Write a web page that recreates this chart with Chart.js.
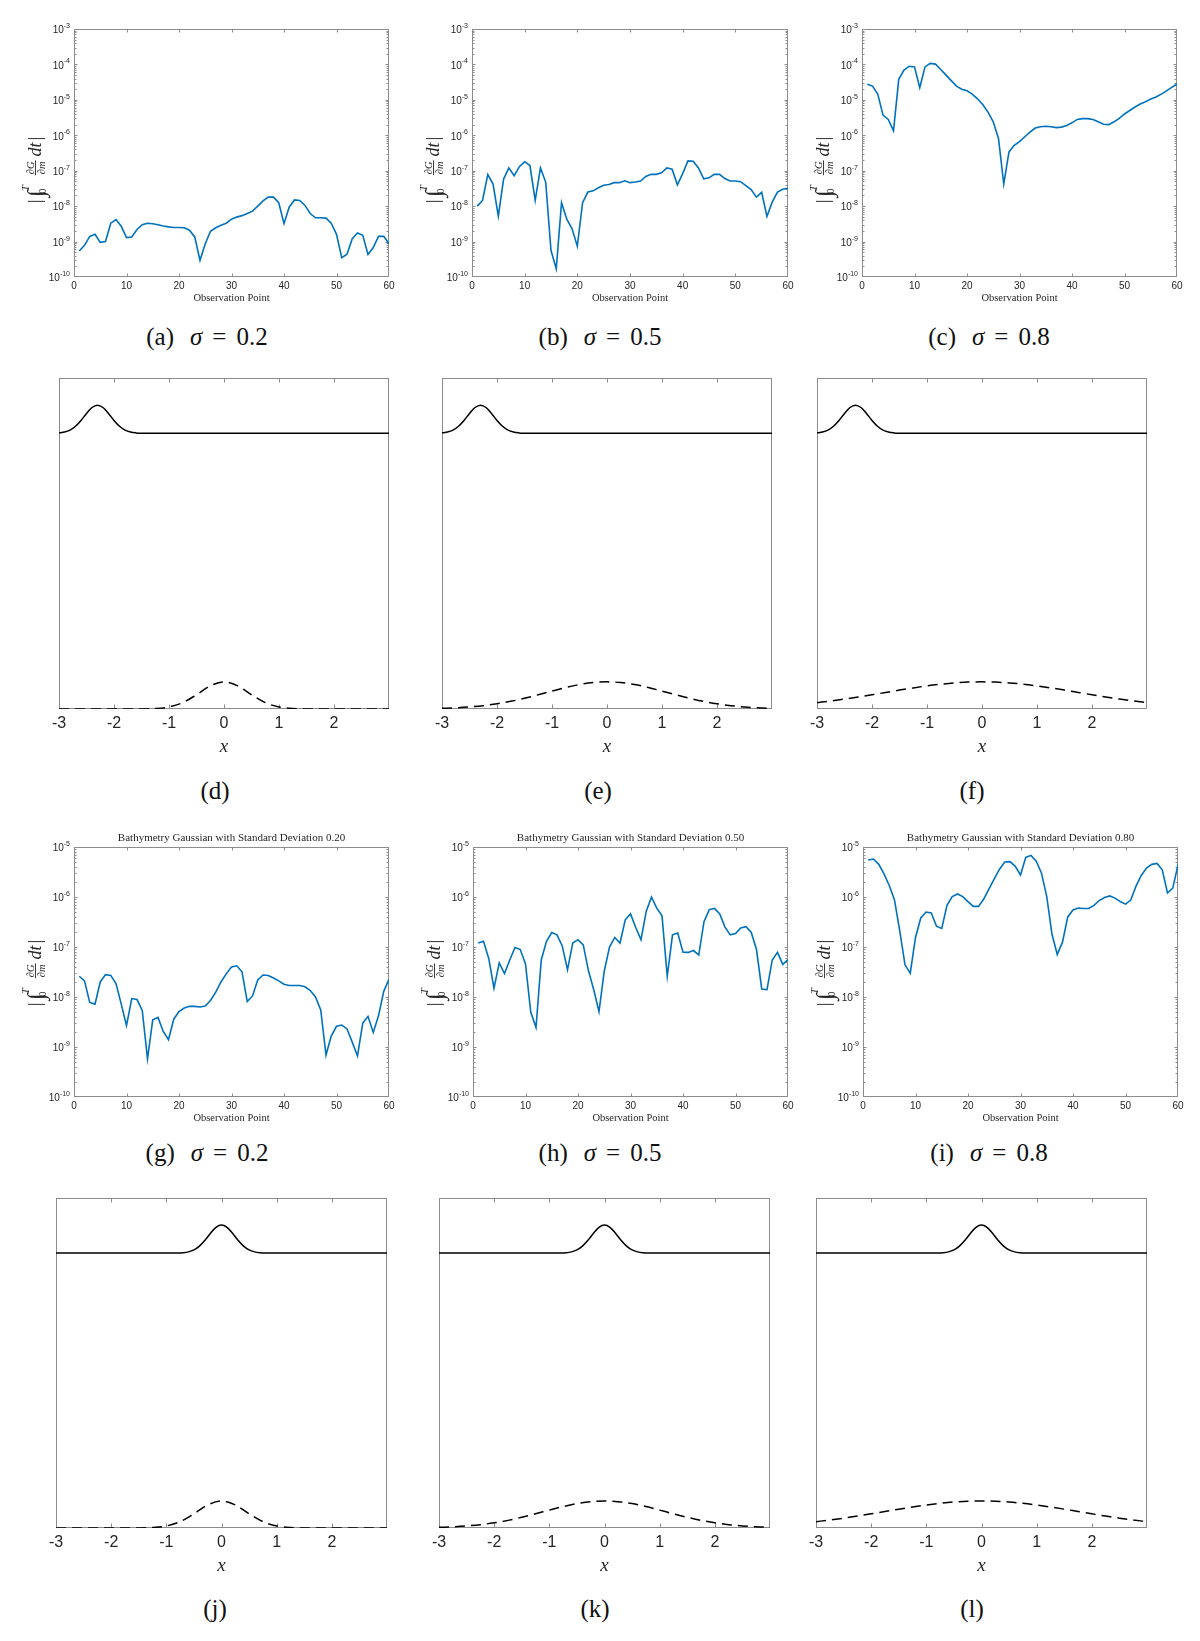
<!DOCTYPE html>
<html>
<head>
<meta charset="utf-8">
<script src="https://cdn.jsdelivr.net/npm/chart.js@4.4.1/dist/chart.umd.min.js"></script>
<style>
  html, body { margin: 0; padding: 0; background: #fff; }
  #fig { position: relative; width: 1200px; height: 1641px; overflow: hidden; background: #fff; }
  .panel { position: absolute; }
  .cap { position: absolute; transform: translate(-50%, -50%); font-family: 'Liberation Serif', 'Times New Roman', serif;
         font-size: 25px; color: #111; white-space: nowrap; line-height: 1; }
  .cap .gap { display: inline-block; width: 16px; }
  .cap .eq { margin: 0 10px; }
</style>
</head>
<body>
<div id="fig"></div>
<script>
// observation points on the horizontal axis of the sensitivity plots
const obsPoints = [1, 2, 3, 4, 5, 6, 7, 8, 9, 10, 11, 12, 13, 14, 15, 16, 17, 18, 19, 20,
  21, 22, 23, 24, 25, 26, 27, 28, 29, 30, 31, 32, 33, 34, 35, 36, 37, 38, 39, 40,
  41, 42, 43, 44, 45, 46, 47, 48, 49, 50, 51, 52, 53, 54, 55, 56, 57, 58, 59, 60];
const obsTicks = [0, 10, 20, 30, 40, 50, 60];
const decadesTop = [-10, -9, -8, -7, -6, -5, -4, -3];
const decadesBottom = [-10, -9, -8, -7, -6, -5];

// |int_0^T dG/dm dt| , wave start at x = -2.3
const sensA = [5.4e-10, 7.8e-10, 1.4e-9, 1.6e-9, 9.5e-10, 1.0e-9, 3.3e-9, 4.2e-9, 2.7e-9, 1.3e-9,
  1.35e-9, 2.2e-9, 3.0e-9, 3.3e-9, 3.2e-9, 3.0e-9, 2.75e-9, 2.6e-9, 2.5e-9, 2.5e-9,
  2.45e-9, 2.1e-9, 1.35e-9, 2.95e-10, 8.7e-10, 1.95e-9, 2.45e-9, 2.9e-9, 3.3e-9, 4.3e-9,
  4.9e-9, 5.4e-9, 6.2e-9, 7.2e-9, 1.0e-8, 1.4e-8, 1.8e-8, 1.8e-8, 1.25e-8, 3.2e-9,
  9.5e-9, 1.5e-8, 1.45e-8, 1.05e-8, 6.2e-9, 4.7e-9, 4.7e-9, 4.6e-9, 3.3e-9, 1.6e-9,
  3.5e-10, 4.4e-10, 1.2e-9, 1.75e-9, 1.5e-9, 4.3e-10, 6.8e-10, 1.4e-9, 1.4e-9, 8.7e-10];
const sensB = [1.0e-8, 1.45e-8, 7.8e-8, 4.2e-8, 5.2e-9, 5.8e-8, 1.2e-7, 7.2e-8, 1.3e-7, 1.8e-7,
  1.4e-7, 1.45e-8, 1.2e-7, 4.7e-8, 5.6e-10, 1.7e-10, 1.25e-8, 4.3e-9, 2.3e-9, 7.4e-10,
  1.25e-8, 2.5e-8, 2.7e-8, 3.3e-8, 3.9e-8, 4.1e-8, 4.6e-8, 4.6e-8, 5.2e-8, 4.6e-8,
  4.8e-8, 5.1e-8, 6.9e-8, 7.9e-8, 7.9e-8, 8.7e-8, 1.2e-7, 1.1e-7, 4.0e-8, 8.3e-8,
  1.9e-7, 1.85e-7, 1.2e-7, 5.9e-8, 6.3e-8, 7.9e-8, 7.9e-8, 6.0e-8, 5.1e-8, 5.1e-8,
  4.9e-8, 3.8e-8, 2.95e-8, 1.8e-8, 2.45e-8, 5.1e-9, 1.3e-8, 2.5e-8, 3.0e-8, 3.2e-8];
const sensC = [2.75e-5, 2.45e-5, 1.45e-5, 3.7e-6, 2.8e-6, 1.35e-6, 3.8e-5, 6.9e-5, 8.9e-5, 8.5e-5,
  2.2e-5, 8.5e-5, 1.07e-4, 1.02e-4, 7.2e-5, 5.0e-5, 3.5e-5, 2.45e-5, 2.0e-5, 1.8e-5,
  1.45e-5, 1.07e-5, 7.4e-6, 4.5e-6, 2.4e-6, 8.1e-7, 4.2e-8, 3.4e-7, 5.2e-7, 6.6e-7,
  9.1e-7, 1.23e-6, 1.6e-6, 1.75e-6, 1.8e-6, 1.75e-6, 1.65e-6, 1.7e-6, 1.9e-6, 2.25e-6,
  2.8e-6, 2.95e-6, 2.95e-6, 2.8e-6, 2.4e-6, 2.05e-6, 2.0e-6, 2.4e-6, 3.0e-6, 4.0e-6,
  5.0e-6, 6.3e-6, 7.6e-6, 8.9e-6, 1.05e-5, 1.2e-5, 1.45e-5, 1.8e-5, 2.25e-5, 2.8e-5];

// same, wave start at x = 0
const sensG = [2.6e-8, 2.1e-8, 7.8e-9, 7.2e-9, 2.0e-8, 2.8e-8, 2.7e-8, 1.85e-8, 7.2e-9, 2.7e-9,
  9.3e-9, 8.9e-9, 5.4e-9, 5.8e-10, 3.5e-9, 3.9e-9, 2.05e-9, 1.4e-9, 3.6e-9, 5.1e-9,
  6.0e-9, 6.5e-9, 6.5e-9, 6.3e-9, 6.6e-9, 8.5e-9, 1.25e-8, 2.0e-8, 2.9e-8, 4.0e-8,
  4.2e-8, 3.2e-8, 8.1e-9, 1.05e-8, 2.2e-8, 2.75e-8, 2.7e-8, 2.4e-8, 2.1e-8, 1.8e-8,
  1.7e-8, 1.7e-8, 1.7e-8, 1.6e-8, 1.35e-8, 1.0e-8, 5.5e-9, 6.9e-10, 1.65e-9, 2.6e-9,
  2.75e-9, 2.3e-9, 1.25e-9, 6.6e-10, 3.0e-9, 4.1e-9, 1.95e-9, 4.2e-9, 1.3e-8, 2.25e-8];
const sensH = [1.2e-7, 1.3e-7, 5.9e-8, 1.5e-8, 4.8e-8, 2.95e-8, 5.5e-8, 9.8e-8, 8.9e-8, 4.6e-8,
  5.0e-9, 2.45e-9, 5.5e-8, 1.3e-7, 1.95e-7, 1.75e-7, 1.05e-7, 3.5e-8, 1.2e-7, 1.4e-7,
  1.1e-7, 3.3e-8, 1.4e-8, 5.1e-9, 3.3e-8, 1.0e-7, 1.55e-7, 1.2e-7, 3.5e-7, 4.6e-7,
  2.45e-7, 1.4e-7, 5.2e-7, 1.0e-6, 6.0e-7, 4.2e-7, 2.6e-8, 1.75e-7, 1.9e-7, 7.9e-8,
  7.8e-8, 8.5e-8, 6.9e-8, 3.2e-7, 5.6e-7, 5.9e-7, 4.6e-7, 2.5e-7, 1.75e-7, 1.85e-7,
  2.4e-7, 2.55e-7, 1.95e-7, 8.9e-8, 1.45e-8, 1.4e-8, 5.5e-8, 7.8e-8, 4.5e-8, 5.6e-8];
const sensI = [5.5e-6, 5.75e-6, 4.5e-6, 2.9e-6, 1.7e-6, 8.7e-7, 2.1e-7, 4.4e-8, 3.0e-8, 1.55e-7,
  3.8e-7, 5.0e-7, 4.8e-7, 2.6e-7, 2.35e-7, 6.8e-7, 1.02e-6, 1.15e-6, 1.02e-6, 8.1e-7,
  6.5e-7, 6.5e-7, 9.1e-7, 1.45e-6, 2.3e-6, 3.6e-6, 5.0e-6, 5.1e-6, 4.1e-6, 2.75e-6,
  6.2e-6, 6.8e-6, 5.2e-6, 3.0e-6, 1.02e-6, 1.8e-7, 7.1e-8, 1.25e-7, 4.0e-7, 5.5e-7,
  6.0e-7, 5.9e-7, 5.9e-7, 6.8e-7, 8.5e-7, 9.8e-7, 1.05e-6, 9.5e-7, 8.1e-7, 7.2e-7,
  8.7e-7, 1.65e-6, 2.7e-6, 3.8e-6, 4.5e-6, 4.7e-6, 3.5e-6, 1.2e-6, 1.5e-6, 4.4e-6];

const titles = ['Bathymetry Gaussian with Standard Deviation 0.20',
  'Bathymetry Gaussian with Standard Deviation 0.50',
  'Bathymetry Gaussian with Standard Deviation 0.80'];

// setup sketches: x in [-3, 3], heights in % of the box
const gaussTicks = [-3, -2, -1, 0, 1, 2];
const bathX = [-3, -2.75, -2.5, -2.25, -2, -1.75, -1.5, -1.25, -1, -0.75, -0.5, -0.25, 0,
  0.25, 0.5, 0.75, 1, 1.25, 1.5, 1.75, 2, 2.25, 2.5, 2.75, 3];
const bathNarrow = [0, 0, 0, 0, 0, 0, 0.02, 0.14, 0.62, 1.92, 4.30, 6.98, 8.2,
  6.98, 4.30, 1.92, 0.62, 0.14, 0.02, 0, 0, 0, 0, 0, 0];
const bathMid = [0.20, 0.36, 0.62, 1.01, 1.57, 2.31, 3.24, 4.30, 5.42, 6.50, 7.40, 7.99, 8.2,
  7.99, 7.40, 6.50, 5.42, 4.30, 3.24, 2.31, 1.57, 1.01, 0.62, 0.36, 0.20];
const bathWide = [1.92, 2.42, 2.99, 3.62, 4.30, 5.00, 5.71, 6.37, 6.98, 7.49, 7.88, 8.12, 8.2,
  8.12, 7.88, 7.49, 6.98, 6.37, 5.71, 5.00, 4.30, 3.62, 2.99, 2.42, 1.92];
const surfLeftX = [-3, -2.9, -2.8, -2.7, -2.6, -2.5, -2.4, -2.3, -2.2, -2.1, -2.0, -1.9, -1.8,
  -1.7, -1.6, -1.5, -1.4, 3];
const surfLeftY = [83.42, 83.67, 84.27, 85.42, 87.18, 89.3, 91.09, 91.8, 91.09, 89.3, 87.18,
  85.42, 84.27, 83.67, 83.42, 83.33, 83.3, 83.3];
const surfCenX = [-3, -0.9, -0.8, -0.7, -0.6, -0.5, -0.4, -0.3, -0.2, -0.1, 0, 0.1, 0.2, 0.3,
  0.4, 0.5, 0.6, 0.7, 0.8, 0.9, 3];
const surfCenY = [83.3, 83.3, 83.33, 83.42, 83.67, 84.27, 85.42, 87.18, 89.3, 91.09, 91.8,
  91.09, 89.3, 87.18, 85.42, 84.27, 83.67, 83.42, 83.33, 83.3, 83.3];

const BLUE = '#0072BD';
const AXIS = '#8c8c8c';
const TXT = '#262626';
const SANS = "'Liberation Sans', Arial, Helvetica, sans-serif";
const SERIF = "'Liberation Serif', 'Times New Roman', serif";

const fig = document.getElementById('fig');
const panelInfo = new WeakMap();

// y label |int_0^T dG/dm dt|, drawn rotated like a LaTeX axis label
function drawSensLabel(ctx, cx, cy) {
  ctx.save();
  ctx.translate(cx, cy);
  ctx.rotate(-Math.PI / 2);
  ctx.fillStyle = TXT;
  ctx.textBaseline = 'alphabetic';
  const fMain = `19px ${SERIF}`, fIt = `italic 18px ${SERIF}`, fInt = `italic 24px ${SERIF}`;
  const fSm = `10.5px ${SERIF}`, fSmIt = `italic 10.5px ${SERIF}`;
  const w = (font, s) => { ctx.font = font; return ctx.measureText(s).width; };
  const put = (font, s, px, py) => { ctx.font = font; ctx.fillText(s, px, py); };
  const wBar = w(fMain, '|'), wInt = w(fInt, '\u222B'), wT = w(fSmIt, 'T');
  const wFrac = Math.max(w(fSmIt, '\u2202G'), w(fSmIt, '\u2202m')) + 2;
  const wDt = w(fIt, 'dt');
  const total = wBar + 4 + wInt + wT + 6 + wFrac + 4 + wDt + 2 + wBar;
  const base = 6;
  let x = -total / 2;
  put(fMain, '|', x, base); x += wBar + 4;
  put(fInt, '\u222B', x, base + 3); x += wInt;
  put(fSmIt, 'T', x - 1, base - 12);
  put(fSm, '0', x - 4, base + 5);
  x += wT + 6;
  const axisY = base - 5.5;
  ctx.textAlign = 'center';
  put(fSmIt, '\u2202G', x + wFrac / 2, axisY - 2);
  put(fSmIt, '\u2202m', x + wFrac / 2, axisY + 9);
  ctx.fillRect(x, axisY - 0.45, wFrac, 0.9);
  ctx.textAlign = 'left';
  x += wFrac + 4;
  put(fIt, 'dt', x, base); x += wDt + 2;
  put(fMain, '|', x, base);
  ctx.restore();
}

const matlabAxes = {
  id: 'matlabAxes',
  beforeDatasetsDraw(chart) {
    const p = panelInfo.get(chart.canvas);
    const {ctx, chartArea: a} = chart;
    const xs = chart.scales.x, ys = chart.scales.y;
    const L = Math.round(a.left) + 0.5, R = Math.round(a.right) - 0.5;
    const T = Math.round(a.top) + 0.5, B = Math.round(a.bottom) - 0.5;
    ctx.save();
    ctx.strokeStyle = AXIS;
    ctx.lineWidth = 1;
    ctx.beginPath();
    p.xTicks.forEach(v => {
      const px = Math.round(xs.getPixelForValue(v)) + 0.5;
      if (px < L + 2 || px > R - 2) return;
      ctx.moveTo(px, B); ctx.lineTo(px, B - p.tickLen);
      ctx.moveTo(px, T); ctx.lineTo(px, T + p.tickLen);
    });
    if (p.decades) {
      p.decades.forEach((e, i) => {
        const major = Math.pow(10, e);
        const py = Math.round(ys.getPixelForValue(major)) + 0.5;
        if (py > T + 2 && py < B - 2) {
          ctx.moveTo(L, py); ctx.lineTo(L + p.tickLen, py);
          ctx.moveTo(R, py); ctx.lineTo(R - p.tickLen, py);
        }
        if (i === p.decades.length - 1) return;
        for (let m = 2; m <= 9; m++) {
          const pm = Math.round(ys.getPixelForValue(m * major)) + 0.5;
          ctx.moveTo(L, pm); ctx.lineTo(L + 2, pm);
          ctx.moveTo(R, pm); ctx.lineTo(R - 2, pm);
        }
      });
    }
    ctx.stroke();
    ctx.strokeRect(L, T, R - L, B - T);
    ctx.restore();
  },
  afterDraw(chart) {
    const p = panelInfo.get(chart.canvas);
    const {ctx, chartArea: a} = chart;
    const xs = chart.scales.x, ys = chart.scales.y;
    ctx.save();
    ctx.fillStyle = TXT;
    ctx.textBaseline = 'middle';
    ctx.textAlign = 'center';
    if (p.kind === 'log') {
      ctx.font = `10px ${SANS}`;
      p.xTicks.forEach(v => ctx.fillText(String(v), xs.getPixelForValue(v), a.bottom + 9));
      ctx.textAlign = 'right';
      p.decades.forEach(e => {
        const py = ys.getPixelForValue(Math.pow(10, e));
        ctx.font = `7px ${SANS}`;
        const ex = String(e);
        const ew = ctx.measureText(ex).width;
        ctx.fillText(ex, a.left - 4, py - 3);
        ctx.font = `10px ${SANS}`;
        ctx.fillText('10', a.left - 4 - ew, py + 1.5);
      });
      ctx.textAlign = 'center';
      ctx.font = `10.5px ${SERIF}`;
      ctx.fillText('Observation Point', (a.left + a.right) / 2, a.bottom + 21);
      if (p.title) {
        ctx.font = `11px ${SERIF}`;
        ctx.fillText(p.title, (a.left + a.right) / 2, a.top - 9);
      }
      drawSensLabel(ctx, a.left - 39, (a.top + a.bottom) / 2 + p.labelDy);
    } else {
      ctx.font = `16px ${SANS}`;
      p.xTicks.forEach(v => ctx.fillText(String(v), xs.getPixelForValue(v), a.bottom + 15));
      ctx.font = `italic 19px ${SERIF}`;
      ctx.fillText('x', xs.getPixelForValue(0), a.bottom + 38);
    }
    ctx.restore();
  }
};

function addCanvas(left, top, w, h, pad) {
  const c = document.createElement('canvas');
  c.className = 'panel';
  c.width = w + pad.left + pad.right;
  c.height = h + pad.top + pad.bottom;
  c.style.width = c.width + 'px';
  c.style.height = c.height + 'px';
  c.style.left = (left - pad.left) + 'px';
  c.style.top = (top - pad.top) + 'px';
  fig.appendChild(c);
  return c;
}

function addCaption(x, y, letter, sigma) {
  const d = document.createElement('div');
  d.className = 'cap';
  d.style.left = x + 'px';
  d.style.top = y + 'px';
  d.innerHTML = sigma
    ? `(${letter})<span class="gap"></span><i>\u03C3</i><span class="eq">=</span>${sigma}`
    : `(${letter})`;
  fig.appendChild(d);
}

const baseOptions = {
  responsive: false,
  animation: false,
  events: [],
  plugins: { legend: { display: false }, tooltip: { enabled: false } },
  elements: { point: { radius: 0 } }
};

// --- sensitivity plots (rows 1 and 3) ---
const logPanels = [
  { vals: sensA, left: 74, top: 29, w: 315, h: 248, decades: decadesTop, labelDy: 16, cap: ['a', '0.2', 207, 336] },
  { vals: sensB, left: 472, top: 29, w: 316, h: 248, decades: decadesTop, labelDy: 16, cap: ['b', '0.5', 600, 336] },
  { vals: sensC, left: 862, top: 29, w: 315, h: 248, decades: decadesTop, labelDy: 16, cap: ['c', '0.8', 989, 336] },
  { vals: sensG, left: 74, top: 847, w: 315, h: 250, decades: decadesBottom, labelDy: 0, title: titles[0], cap: ['g', '0.2', 207, 1152] },
  { vals: sensH, left: 473, top: 847, w: 315, h: 250, decades: decadesBottom, labelDy: 0, title: titles[1], cap: ['h', '0.5', 600, 1152] },
  { vals: sensI, left: 863, top: 847, w: 315, h: 250, decades: decadesBottom, labelDy: 0, title: titles[2], cap: ['i', '0.8', 989, 1152] }
];

logPanels.forEach(p => {
  const pad = { left: 64, top: 22, right: 8, bottom: 34 };
  const c = addCanvas(p.left, p.top, p.w, p.h, pad);
  panelInfo.set(c, { kind: 'log', xTicks: obsTicks, decades: p.decades, tickLen: 3, title: p.title, labelDy: p.labelDy });
  new Chart(c, {
    type: 'line',
    data: {
      datasets: [{
        data: obsPoints.map((o, i) => ({ x: o, y: p.vals[i] })),
        borderColor: BLUE, borderWidth: 1.6, tension: 0, fill: false
      }]
    },
    options: Object.assign({}, baseOptions, {
      layout: { padding: pad },
      scales: {
        x: { type: 'linear', min: 0, max: 60, display: false },
        y: { type: 'logarithmic', min: Math.pow(10, p.decades[0]), max: Math.pow(10, p.decades[p.decades.length - 1]), display: false }
      }
    }),
    plugins: [matlabAxes]
  });
  addCaption(p.cap[2], p.cap[3], p.cap[0], p.cap[1]);
});

// --- setup sketches (rows 2 and 4) ---
const gaussPanels = [
  { bath: bathNarrow, sx: surfLeftX, sy: surfLeftY, left: 59, top: 378, w: 330, h: 331, cap: ['d', 215, 790] },
  { bath: bathMid, sx: surfLeftX, sy: surfLeftY, left: 442, top: 378, w: 330, h: 331, cap: ['e', 598, 790] },
  { bath: bathWide, sx: surfLeftX, sy: surfLeftY, left: 817, top: 378, w: 330, h: 331, cap: ['f', 972, 790] },
  { bath: bathNarrow, sx: surfCenX, sy: surfCenY, left: 56, top: 1198, w: 331, h: 330, cap: ['j', 215, 1608] },
  { bath: bathMid, sx: surfCenX, sy: surfCenY, left: 439, top: 1198, w: 331, h: 330, cap: ['k', 595, 1608] },
  { bath: bathWide, sx: surfCenX, sy: surfCenY, left: 816, top: 1198, w: 331, h: 330, cap: ['l', 972, 1608] }
];

gaussPanels.forEach(p => {
  const pad = { left: 14, top: 8, right: 14, bottom: 52 };
  const c = addCanvas(p.left, p.top, p.w, p.h, pad);
  panelInfo.set(c, { kind: 'gauss', xTicks: gaussTicks, tickLen: 4 });
  new Chart(c, {
    type: 'line',
    data: {
      datasets: [
        {
          data: p.sx.map((x, i) => ({ x, y: p.sy[i] })),
          borderColor: '#000', borderWidth: 1.5, cubicInterpolationMode: 'monotone', fill: false
        },
        {
          data: bathX.map((x, i) => ({ x, y: p.bath[i] })),
          borderColor: '#000', borderWidth: 1.5, borderDash: [10, 6], cubicInterpolationMode: 'monotone', fill: false
        }
      ]
    },
    options: Object.assign({}, baseOptions, {
      layout: { padding: pad },
      scales: {
        x: { type: 'linear', min: -3, max: 3, display: false },
        y: { type: 'linear', min: 0, max: 100, display: false }
      }
    }),
    plugins: [matlabAxes]
  });
  addCaption(p.cap[1], p.cap[2], p.cap[0]);
});
</script>
</body>
</html>
